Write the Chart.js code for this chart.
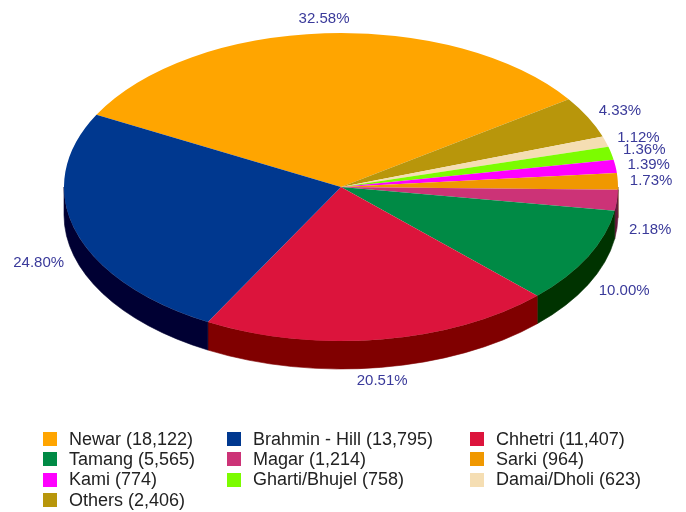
<!DOCTYPE html>
<html>
<head>
<meta charset="utf-8">
<title>Population by caste / ethnicity</title>
<script src="https://cdn.jsdelivr.net/npm/chart.js@4.4.1/dist/chart.umd.min.js"></script>
<style>
  html, body { margin: 0; padding: 0; background: #fff; }
  #wrap { position: relative; width: 686px; height: 512px; overflow: hidden; }
  #chart { position: absolute; left: 0; top: 0; }
  #legend {
    position: absolute; left: 43px; top: 429px;
    display: grid; grid-template-columns: 184px 243px auto;
    font: 18px "Liberation Sans", Arial, sans-serif; color: #222;
  }
  .item { display: flex; align-items: center; height: 20.3px; white-space: nowrap; }
  .box { width: 14px; height: 14px; margin-right: 12px; flex: none; }
</style>
</head>
<body>
<div id="wrap">
  <canvas id="chart" width="686" height="512"></canvas>
  <div id="legend"></div>
</div>
<script>
// datos en el orden de la leyenda
const categories = ['Newar', 'Brahmin - Hill', 'Chhetri', 'Tamang', 'Magar', 'Sarki', 'Kami', 'Gharti/Bhujel', 'Damai/Dholi', 'Others'];
const population = [18122, 13795, 11407, 5565, 1214, 964, 774, 758, 623, 2406];
const topColors = ['#FFA500', '#00388F', '#DC143C', '#008A45', '#CC3377', '#F09800', '#FF00FF', '#7CFC00', '#F5DEB3', '#B8960B'];
const sideColors = ['#7F5200', '#000033', '#800000', '#003300', '#661A3C', '#7A4C00', '#800080', '#3E7E00', '#7A6F5A', '#5C4B05'];
// orden en que se dibujan las porciones (sentido horario)
const pieOrder = [0, 9, 8, 7, 6, 5, 4, 3, 2, 1];

// elipse de la cara superior
const CX = 341, CY = 187, RX = 277, RY = 154, DEPTH = 28;

const total = population.reduce((a, b) => a + b, 0);

const pie3d = {
  id: 'pie3d',
  beforeDatasetsDraw(chart) {
    const ctx = chart.ctx;
    const arcs = chart.getDatasetMeta(0).data;
    // 1. pared lateral, solo la mitad de delante (0..PI)
    arcs.forEach((arc, i) => {
      const s = arc.startAngle, e = arc.endAngle;
      ctx.fillStyle = sideColors[pieOrder[i]];
      ctx.strokeStyle = sideColors[pieOrder[i]];
      ctx.lineWidth = 0.6;
      for (let k = -1; k <= 2; k++) {
        const lo = Math.max(s, 2 * Math.PI * k);
        const hi = Math.min(e, 2 * Math.PI * k + Math.PI);
        if (hi <= lo) continue;
        ctx.beginPath();
        ctx.ellipse(CX, CY, RX, RY, 0, lo, hi);
        ctx.ellipse(CX, CY + DEPTH, RX, RY, 0, hi, lo, true);
        ctx.closePath();
        ctx.fill();
        ctx.stroke();
      }
    });
    // 2. aplastar el círculo de Chart.js en la elipse
    const a = arcs[0];
    ctx.save();
    ctx.translate(CX, CY);
    ctx.scale(RX / a.outerRadius, RY / a.outerRadius);
    ctx.translate(-a.x, -a.y);
  },
  afterDatasetsDraw(chart) {
    const ctx = chart.ctx;
    ctx.restore();
    // 3. etiquetas de porcentaje
    const arcs = chart.getDatasetMeta(0).data;
    ctx.save();
    ctx.font = '15px "Liberation Sans", Arial, sans-serif';
    ctx.fillStyle = '#3A3A9A';
    ctx.textBaseline = 'middle';
    arcs.forEach((arc, i) => {
      const mid = (arc.startAngle + arc.endAngle) / 2;
      const c = Math.cos(mid), sn = Math.sin(mid);
      const x = CX + (RX + 12) * c;
      const y = CY + (RY + 14) * sn + (sn > 0.05 ? DEPTH : 0);
      ctx.textAlign = c > 0.2 ? 'left' : (c < -0.2 ? 'right' : 'center');
      const pct = population[pieOrder[i]] / total * 100;
      ctx.fillText(pct.toFixed(2) + '%', x, y);
    });
    ctx.restore();
  }
};

new Chart(document.getElementById('chart'), {
  type: 'pie',
  data: {
    labels: pieOrder.map(i => categories[i]),
    datasets: [{
      data: pieOrder.map(i => population[i]),
      backgroundColor: pieOrder.map(i => topColors[i]),
      borderWidth: 0,
      clip: false
    }]
  },
  options: {
    responsive: false,
    animation: false,
    events: [],
    rotation: 298,
    plugins: {
      legend: { display: false },
      tooltip: { enabled: false }
    }
  },
  plugins: [pie3d]
});

// leyenda en rejilla de tres columnas
const legend = document.getElementById('legend');
categories.forEach((name, i) => {
  const item = document.createElement('div');
  item.className = 'item';
  item.innerHTML = '<span class="box" style="background:' + topColors[i] + '"></span>' +
    name + ' (' + population[i].toLocaleString('en-US') + ')';
  legend.appendChild(item);
});
</script>
</body>
</html>
